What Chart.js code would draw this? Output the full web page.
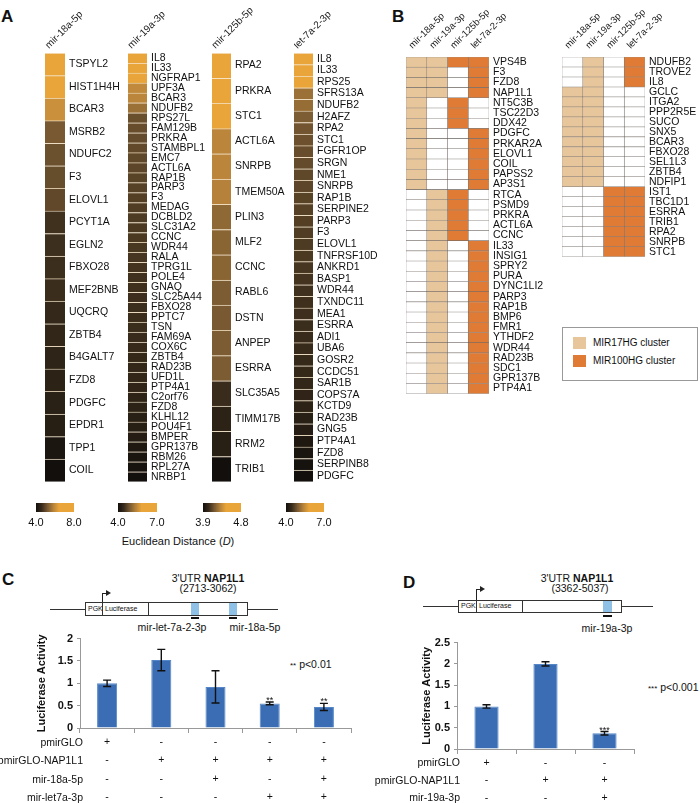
<!DOCTYPE html>
<html>
<head>
<meta charset="utf-8">
<title>miRNA targets of NAP1L1</title>
<script src="https://cdn.jsdelivr.net/npm/chart.js@4.4.1/dist/chart.umd.min.js"></script>
<style>
  html, body { margin: 0; padding: 0; background: #fff; }
  #fig { position: relative; width: 700px; height: 803px; overflow: hidden;
         font-family: "Liberation Sans", Arial, Helvetica, sans-serif; color: #111; }
  #fig canvas { position: absolute; }
  #fig div { box-sizing: border-box; }
  .txt { position: absolute; white-space: nowrap; line-height: 1; }
  .panel { font-size: 17px; font-weight: bold; }
  .hline { position: absolute; height: 1px; background: #333; }
  .box { position: absolute; border: 1px solid #333; background: #fff; }
  .seg { position: absolute; border-right: 1px solid #333; font-size: 7px; line-height: 11px; padding-left: 2px; }
  .site { position: absolute; background: #8fc0e6; }
  .under { position: absolute; height: 2px; background: #111; }
  .row { position: absolute; font-size: 10.5px; line-height: 1; text-align: right; width: 110px; }
</style>
</head>
<body>
<div id="fig">
  <div class="txt panel" style="left:1px;top:8px">A</div>
  <div class="txt panel" style="left:392px;top:8px">B</div>
  <div class="txt panel" style="left:2px;top:571px">C</div>
  <div class="txt panel" style="left:403px;top:574px">D</div>

  <div class="txt" style="left:78px;top:536px;width:200px;text-align:center;font-size:11px">Euclidean Distance (<i>D</i>)</div>

  <!-- legend of panel B -->
  <div class="box" style="left:562px;top:327px;width:136px;height:54px;border-color:#999"></div>
  <div style="position:absolute;left:573px;top:337px;width:13px;height:12px;background:#e8c69b"></div>
  <div class="txt" style="left:593px;top:338px;font-size:10px">MIR17HG cluster</div>
  <div style="position:absolute;left:573px;top:355px;width:13px;height:12px;background:#e07b35"></div>
  <div class="txt" style="left:593px;top:356px;font-size:10px">MIR100HG cluster</div>

  <!-- panel C construct -->
  <div class="txt" style="left:108px;top:573px;width:200px;text-align:center;font-size:10.5px">3'UTR <b>NAP1L1</b></div>
  <div class="txt" style="left:108px;top:583px;width:200px;text-align:center;font-size:10.5px">(2713-3062)</div>
  <div class="hline" style="left:50px;top:609px;width:228px"></div>
  <div class="box" style="left:85px;top:602px;width:163px;height:14px"></div>
  <div class="seg" style="left:86px;top:603px;width:17px;height:12px">PGK</div>
  <div class="seg" style="left:103px;top:603px;width:46px;height:12px">Luciferase</div>
  <div class="site" style="left:191px;top:603px;width:8px;height:12px"></div>
  <div class="site" style="left:229px;top:603px;width:8px;height:12px"></div>
  <div class="under" style="left:191px;top:617px;width:8px"></div>
  <div class="under" style="left:229px;top:617px;width:8px"></div>
  <div style="position:absolute;left:102px;top:593px;width:1px;height:9px;background:#222"></div>
  <div style="position:absolute;left:102px;top:593px;width:5px;height:1px;background:#222"></div>
  <div style="position:absolute;left:106px;top:590px;width:0;height:0;border-top:3.5px solid transparent;border-bottom:3.5px solid transparent;border-left:5px solid #222"></div>
  <div class="txt" style="left:122px;top:622px;width:100px;text-align:center;font-size:10.5px">mir-let-7a-2-3p</div>
  <div class="txt" style="left:205px;top:622px;width:100px;text-align:center;font-size:10.5px">mir-18a-5p</div>
  <div class="txt" style="left:290px;top:659px;font-size:10.5px"><span style="font-size:8px">**</span> p&lt;0.01</div>

  <!-- panel D construct -->
  <div class="txt" style="left:477px;top:573px;width:200px;text-align:center;font-size:10.5px">3'UTR <b>NAP1L1</b></div>
  <div class="txt" style="left:480px;top:583px;width:200px;text-align:center;font-size:10.5px">(3362-5037)</div>
  <div class="hline" style="left:423px;top:606px;width:230px"></div>
  <div class="box" style="left:458px;top:600px;width:164px;height:13px"></div>
  <div class="seg" style="left:459px;top:601px;width:18px;height:11px;line-height:10px">PGK</div>
  <div class="seg" style="left:477px;top:601px;width:46px;height:11px;line-height:10px">Luciferase</div>
  <div class="site" style="left:603px;top:601px;width:9px;height:11px"></div>
  <div class="under" style="left:603px;top:615px;width:9px"></div>
  <div style="position:absolute;left:476px;top:589px;width:1px;height:11px;background:#222"></div>
  <div style="position:absolute;left:476px;top:589px;width:5px;height:1px;background:#222"></div>
  <div style="position:absolute;left:480px;top:586px;width:0;height:0;border-top:3.5px solid transparent;border-bottom:3.5px solid transparent;border-left:5px solid #222"></div>
  <div class="txt" style="left:557px;top:623px;width:100px;text-align:center;font-size:10.5px">mir-19a-3p</div>
  <div class="txt" style="left:648px;top:682px;font-size:10.5px"><span style="font-size:8px">***</span> p&lt;0.001</div>
</div>

<script>
// ---- panel A: Euclidean distance heatmaps ----
const heatNames = ["mir-18a-5p", "mir-19a-3p", "mir-125b-5p", "let-7a-2-3p"];
const heatRanges = [[4.0, 8.0], [4.0, 7.0], [3.9, 4.8], [4.0, 7.0]];

const genes18a = ["TSPYL2", "HIST1H4H", "BCAR3", "MSRB2", "NDUFC2", "F3", "ELOVL1", "PCYT1A", "EGLN2",
  "FBXO28", "MEF2BNB", "UQCRQ", "ZBTB4", "B4GALT7", "FZD8", "PDGFC", "EPDR1", "TPP1", "COIL"];
const dist18a = [8.0, 7.8, 6.05, 5.2, 5.1, 5.05, 5.0, 4.72, 4.68,
  4.65, 4.64, 4.52, 4.48, 4.44, 4.4, 4.38, 4.34, 4.15, 4.0];

const genes19a = ["IL8", "IL33", "NGFRAP1", "UPF3A", "BCAR3", "NDUFB2", "RPS27L", "FAM129B", "PRKRA",
  "STAMBPL1", "EMC7", "ACTL6A", "RAP1B", "PARP3", "F3", "MEDAG", "DCBLD2", "SLC31A2", "CCNC", "WDR44",
  "RALA", "TPRG1L", "POLE4", "GNAQ", "SLC25A44", "FBXO28", "PPTC7", "TSN", "FAM69A", "COX6C", "ZBTB4",
  "RAD23B", "UFD1L", "PTP4A1", "C2orf76", "FZD8", "KLHL12", "POU4F1", "BMPER", "GPR137B", "RBM26",
  "RPL27A", "NRBP1"];
const dist19a = [7.0, 6.95, 6.9, 5.44, 5.4, 5.17, 4.81, 4.79, 4.77,
  4.76, 4.74, 4.72, 4.7, 4.68, 4.67, 4.65, 4.63, 4.61, 4.61, 4.59,
  4.58, 4.56, 4.54, 4.52, 4.5, 4.49, 4.48, 4.47, 4.45, 4.43, 4.4,
  4.38, 4.36, 4.34, 4.32, 4.31, 4.27, 4.25, 4.22, 4.15, 4.1,
  4.05, 4.0];

const genes125b = ["RPA2", "PRKRA", "STC1", "ACTL6A", "SNRPB", "TMEM50A", "PLIN3", "MLF2", "CCNC",
  "RABL6", "DSTN", "ANPEP", "ESRRA", "SLC35A5", "TIMM17B", "RRM2", "TRIB1"];
const dist125b = [4.8, 4.78, 4.75, 4.32, 4.32, 4.31, 4.22, 4.21, 4.21,
  4.18, 4.17, 4.18, 4.18, 4.04, 3.99, 3.98, 3.9];

const genesLet7 = ["IL8", "IL33", "RPS25", "SFRS13A", "NDUFB2", "H2AFZ", "RPA2", "STC1", "FGFR1OP",
  "SRGN", "NME1", "SNRPB", "RAP1B", "SERPINE2", "PARP3", "F3", "ELOVL1", "TNFRSF10D", "ANKRD1",
  "BASP1", "WDR44", "TXNDC11", "MEA1", "ESRRA", "ADI1", "UBA6", "GOSR2", "CCDC51", "SAR1B", "COPS7A",
  "KCTD9", "RAD23B", "GNG5", "PTP4A1", "FZD8", "SERPINB8", "PDGFC"];
const distLet7 = [7.0, 6.95, 6.9, 5.17, 5.13, 4.94, 4.86, 4.83, 4.79,
  4.77, 4.74, 4.72, 4.7, 4.68, 4.67, 4.65, 4.63, 4.61, 4.58,
  4.56, 4.54, 4.52, 4.5, 4.47, 4.45, 4.43, 4.41, 4.4, 4.36, 4.34,
  4.31, 4.27, 4.22, 4.15, 4.09, 4.05, 4.0];

// ---- panel B: shared targets ----
const clusterColors = ["#e8c69b", "#e07b35"]; // MIR17HG, MIR100HG
const leftGenes = ["VPS4B", "F3", "FZD8", "NAP1L1", "NT5C3B", "TSC22D3", "DDX42", "PDGFC", "PRKAR2A",
  "ELOVL1", "COIL", "PAPSS2", "AP3S1", "RTCA", "PSMD9", "PRKRA", "ACTL6A", "CCNC", "IL33", "INSIG1",
  "SPRY2", "PURA", "DYNC1LI2", "PARP3", "RAP1B", "BMP6", "FMR1", "YTHDF2", "WDR44", "RAD23B", "SDC1",
  "GPR137B", "PTP4A1"];
const leftHits = [
  [1, 1, 1, 1], [1, 1, 0, 1], [1, 1, 0, 1], [1, 1, 0, 1],
  [1, 0, 1, 0], [1, 0, 1, 0], [1, 0, 1, 0],
  [1, 0, 0, 1], [1, 0, 0, 1], [1, 0, 0, 1], [1, 0, 0, 1], [1, 0, 0, 1], [1, 0, 0, 1],
  [0, 1, 1, 0], [0, 1, 1, 0], [0, 1, 1, 0], [0, 1, 1, 0], [0, 1, 1, 0],
  [0, 1, 0, 1], [0, 1, 0, 1], [0, 1, 0, 1], [0, 1, 0, 1], [0, 1, 0, 1], [0, 1, 0, 1], [0, 1, 0, 1],
  [0, 1, 0, 1], [0, 1, 0, 1], [0, 1, 0, 1], [0, 1, 0, 1], [0, 1, 0, 1], [0, 1, 0, 1], [0, 1, 0, 1],
  [0, 1, 0, 1]];
const rightGenes = ["NDUFB2", "TROVE2", "IL8", "GCLC", "ITGA2", "PPP2R5E", "SUCO", "SNX5", "BCAR3",
  "FBXO28", "SEL1L3", "ZBTB4", "NDFIP1", "IST1", "TBC1D1", "ESRRA", "TRIB1", "RPA2", "SNRPB", "STC1"];
const rightHits = [
  [0, 1, 0, 1], [0, 1, 0, 1], [0, 1, 0, 1],
  [1, 1, 0, 0], [1, 1, 0, 0], [1, 1, 0, 0], [1, 1, 0, 0], [1, 1, 0, 0],
  [1, 1, 0, 0], [1, 1, 0, 0], [1, 1, 0, 0], [1, 1, 0, 0], [1, 1, 0, 0],
  [0, 0, 1, 1], [0, 0, 1, 1], [0, 0, 1, 1], [0, 0, 1, 1], [0, 0, 1, 1], [0, 0, 1, 1], [0, 0, 1, 1]];

// ---- panel C / D: luciferase assays ----
const lucC = [1.0, 1.52, 0.92, 0.55, 0.47];
const errC = [0.07, 0.24, 0.36, 0.03, 0.08];
const starsC = ["", "", "", "**", "**"];
const rowsC = ["pmirGLO", "pmirGLO-NAP1L1", "mir-18a-5p", "mir-let7a-3p"];
const signsC = [
  ["+", "-", "-", "-", "-"],
  ["-", "+", "+", "+", "+"],
  ["-", "-", "+", "-", "+"],
  ["-", "-", "-", "+", "+"]];

const lucD = [1.0, 2.0, 0.37];
const errD = [0.04, 0.05, 0.04];
const starsD = ["", "", "***"];
const rowsD = ["pmirGLO", "pmirGLO-NAP1L1", "mir-19a-3p"];
const signsD = [
  ["+", "-", "-"],
  ["-", "+", "+"],
  ["-", "-", "+"]];

const FONT = '"Liberation Sans", Arial, Helvetica, sans-serif';
Chart.defaults.font.family = FONT;
Chart.defaults.color = "#111";
Chart.defaults.animation = false;

const fig = document.getElementById("fig");

function addCanvas(left, top, w, h) {
  const c = document.createElement("canvas");
  c.width = w;
  c.height = h;
  c.style.left = left + "px";
  c.style.top = top + "px";
  fig.appendChild(c);
  return c;
}

function addText(text, left, top, width, align) {
  const d = document.createElement("div");
  d.className = "row";
  d.textContent = text;
  d.style.left = left + "px";
  d.style.top = top + "px";
  d.style.width = width + "px";
  d.style.textAlign = align;
  fig.appendChild(d);
}

// dark brown -> orange, saturating at 60% of the range
const heatStops = [[0, [18, 15, 12]], [0.3, [64, 49, 30]], [0.5, [120, 89, 50]], [0.8, [192, 137, 60]], [1, [233, 164, 58]]];
function stopColor(f) {
  f = Math.max(0, Math.min(1, f));
  for (let i = 1; i < heatStops.length; i++) {
    const [f1, c1] = heatStops[i];
    const [f0, c0] = heatStops[i - 1];
    if (f <= f1) {
      const k = (f - f0) / (f1 - f0);
      return `rgb(${c0.map((c, j) => Math.round(c + (c1[j] - c) * k)).join(",")})`;
    }
  }
  return "rgb(233,164,58)";
}
function heatColor(v, lo, hi) {
  return stopColor((v - lo) / (hi - lo) / 0.6);
}

// miRNA names written at 45 degrees above each column, placed with the x scale
const colHeaders = {
  id: "colHeaders",
  afterDraw(chart, args, opts) {
    const { ctx, chartArea } = chart;
    const x = chart.scales.x;
    ctx.save();
    ctx.font = `${opts.size}px ${FONT}`;
    ctx.fillStyle = "#222";
    ctx.textAlign = "left";
    ctx.textBaseline = "alphabetic";
    opts.names.forEach((n, i) => {
      ctx.save();
      ctx.translate(x.getPixelForValue(i + 0.5) + opts.dx, chartArea.top - opts.gap);
      ctx.rotate(-Math.PI / 4);
      ctx.fillText(n, 0, 0);
      ctx.restore();
    });
    ctx.restore();
  },
};

function heatmap(idx, genes, dist, left, barW, labelW) {
  const [lo, hi] = heatRanges[idx];
  const cv = addCanvas(left, 0, barW + labelW, 492);
  new Chart(cv, {
    type: "bar",
    data: {
      labels: genes,
      datasets: [{
        data: genes.map(() => 1),
        backgroundColor: dist.map((v) => heatColor(v, lo, hi)),
        borderColor: "rgba(235,205,150,0.45)",
        borderWidth: { top: 1, right: 0, bottom: 0, left: 0 },
        borderSkipped: false,
        barPercentage: 1,
        categoryPercentage: 1,
      }],
    },
    options: {
      indexAxis: "y",
      responsive: false,
      layout: { padding: { top: 53 } },
      plugins: {
        legend: { display: false },
        tooltip: { enabled: false },
        colHeaders: { names: [heatNames[idx]], size: 10, dx: -6, gap: 4 },
      },
      scales: {
        x: { type: "linear", min: 0, max: 1, display: false },
        y: {
          position: "right",
          grid: { display: false, drawTicks: false },
          border: { display: false },
          ticks: { autoSkip: false, padding: 4, font: { size: 10.5 }, color: "#111" },
          afterFit: (s) => { s.width = labelW; },
        },
      },
    },
    plugins: [colHeaders],
  });
}

heatmap(0, genes18a, dist18a, 45, 20, 63);
heatmap(1, genes19a, dist19a, 128, 19, 65);
heatmap(2, genes125b, dist125b, 212, 19, 65);
heatmap(3, genesLet7, distLet7, 294, 19, 80);

// colour keys under the heatmaps
function colorKey(idx, barLeft, barW) {
  const [lo, hi] = heatRanges[idx];
  const cv = addCanvas(barLeft - 10, 503, barW + 20, 32);
  new Chart(cv, {
    type: "bar",
    data: {
      labels: [""],
      datasets: [{
        data: [[lo, hi]],
        backgroundColor: (ctx) => {
          const area = ctx.chart.chartArea;
          if (!area) return "#000";
          const g = ctx.chart.ctx.createLinearGradient(area.left, 0, area.right, 0);
          [0, 0.15, 0.3, 0.45, 0.6, 1].forEach((p) => g.addColorStop(p, stopColor(p / 0.6)));
          return g;
        },
        barPercentage: 1,
        categoryPercentage: 1,
      }],
    },
    options: {
      indexAxis: "y",
      responsive: false,
      layout: { padding: { left: 10, right: 10 } },
      plugins: { legend: { display: false }, tooltip: { enabled: false } },
      scales: {
        x: {
          min: lo, max: hi,
          grid: { display: false, drawTicks: false },
          border: { display: false },
          afterBuildTicks: (s) => { s.ticks = [{ value: lo }, { value: hi }]; },
          ticks: { callback: (v) => Number(v).toFixed(1), padding: 0, font: { size: 11, lineHeight: 2 }, color: "#111", maxRotation: 0 },
          afterFit: (s) => { s.height = 23; },
        },
        y: { display: false },
      },
    },
  });
}
colorKey(0, 36, 38);
colorKey(1, 118, 39);
colorKey(2, 203, 38);
colorKey(3, 286, 38);

// ---- panel B matrices ----
function matrix(genes, hits, left, labelW) {
  const rowH = 10.5;
  const cv = addCanvas(left, 0, 83 + labelW, Math.round(57 + genes.length * rowH));
  new Chart(cv, {
    type: "bar",
    data: {
      labels: genes,
      datasets: heatNames.map((m, c) => ({
        label: m,
        data: genes.map(() => 1),
        backgroundColor: hits.map((r) => (r[c] ? clusterColors[c < 2 ? 0 : 1] : "#ffffff")),
        borderColor: "rgba(70,60,55,0.55)",
        borderWidth: 0.6,
        borderSkipped: false,
        barPercentage: 1,
        categoryPercentage: 1,
      })),
    },
    options: {
      indexAxis: "y",
      responsive: false,
      layout: { padding: { top: 57 } },
      plugins: {
        legend: { display: false },
        tooltip: { enabled: false },
        colHeaders: { names: heatNames, size: 9.5, dx: -4, gap: 8 },
      },
      scales: {
        x: { stacked: true, min: 0, max: 4, display: false },
        y: {
          stacked: true, position: "right",
          grid: { display: false, drawTicks: false },
          border: { display: false },
          ticks: { autoSkip: false, padding: 4, font: { size: 10.5 }, color: "#111" },
          afterFit: (s) => { s.width = labelW; },
        },
      },
    },
    plugins: [colHeaders],
  });
}
matrix(leftGenes, leftHits, 406, 70);
matrix(rightGenes, rightHits, 562, 56);

// ---- error bars and significance stars ----
const errorBars = {
  id: "errorBars",
  afterDatasetsDraw(chart, args, opts) {
    const { ctx } = chart;
    const y = chart.scales.y;
    const vals = chart.data.datasets[0].data;
    ctx.save();
    ctx.strokeStyle = "#111";
    ctx.fillStyle = "#111";
    ctx.lineWidth = 1.4;
    chart.getDatasetMeta(0).data.forEach((bar, i) => {
      const top = y.getPixelForValue(vals[i] + opts.err[i]);
      const bot = y.getPixelForValue(vals[i] - opts.err[i]);
      ctx.beginPath();
      ctx.moveTo(bar.x, top); ctx.lineTo(bar.x, bot);
      ctx.moveTo(bar.x - 4, top); ctx.lineTo(bar.x + 4, top);
      ctx.moveTo(bar.x - 4, bot); ctx.lineTo(bar.x + 4, bot);
      ctx.stroke();
      if (opts.stars[i]) {
        ctx.font = "9px " + FONT;
        ctx.textAlign = "center";
        ctx.textBaseline = "alphabetic";
        ctx.fillText(opts.stars[i], bar.x, top + 1);
      }
    });
    ctx.restore();
  },
};

function lucChart(vals, err, stars, signs, left, top, w, h, yMax, yW, xH, padTop, padRight, lineH, titlePad, barPct) {
  const cv = addCanvas(left, top, w, h);
  return new Chart(cv, {
    type: "bar",
    data: {
      labels: vals.map((_, i) => signs.map((r) => r[i])),
      datasets: [{
        data: vals,
        backgroundColor: "#3a6db4",
        borderColor: "#5587c8",
        borderWidth: 1,
        barPercentage: barPct,
        categoryPercentage: 1,
      }],
    },
    options: {
      responsive: false,
      layout: { padding: { top: padTop, right: padRight } },
      plugins: { legend: { display: false }, tooltip: { enabled: false }, errorBars: { err, stars } },
      scales: {
        x: {
          grid: { offset: true, drawOnChartArea: false, drawTicks: true, tickLength: 5, color: "#999" },
          border: { color: "#999" },
          ticks: { padding: 0, font: { size: 10.5, lineHeight: lineH }, color: "#111", maxRotation: 0 },
          afterFit: (s) => { s.height = xH; },
        },
        y: {
          min: 0, max: yMax,
          grid: { drawOnChartArea: false, tickLength: 3, color: "#999" },
          border: { color: "#999" },
          ticks: { stepSize: 0.5, padding: 4, font: { size: 11, weight: "bold" }, color: "#111", callback: (v) => String(v) },
          title: { display: true, text: "Luciferase Activity", font: { size: 11, weight: "bold" }, color: "#111", padding: { top: titlePad, bottom: 0 } },
          afterFit: (s) => { s.width = yW; },
        },
      },
    },
    plugins: [errorBars],
  });
}

lucChart(lucC, errC, starsC, signsC, 30, 628, 330, 175, 2, 50, 75, 8, 9, 18.3 / 10.5, 5, 0.37);
lucChart(lucD, errD, starsD, signsD, 416, 632, 224, 171, 2.5, 41, 54, 7, 6, 17.5 / 10.5, 4, 0.41);

rowsC.forEach((r, i) => addText(r, -27, 737 + i * 18.3, 110, "right"));
rowsD.forEach((r, i) => addText(r, 350, 757 + i * 17.5, 110, "right"));
</script>
</body>
</html>
